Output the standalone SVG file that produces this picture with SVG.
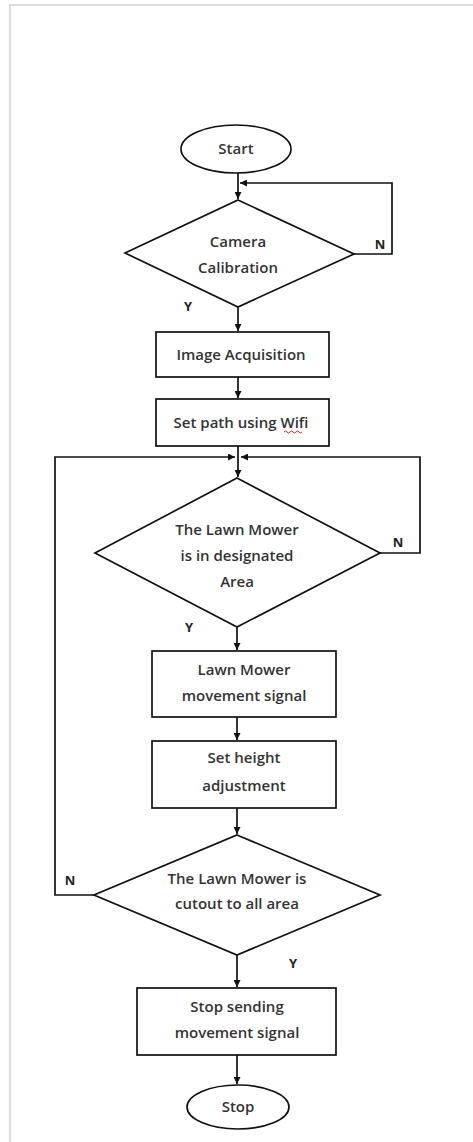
<svg xmlns="http://www.w3.org/2000/svg" width="473" height="1142" viewBox="0 0 473 1142">
<style>
.shape{fill:#fff;stroke:#111;stroke-width:1.7}
.line{fill:none;stroke:#111;stroke-width:1.7}
.t{font-family:"Open Sans","Liberation Sans",sans-serif;font-size:15px;font-weight:600;fill:#333;text-anchor:middle}
.lbl{font-family:"Open Sans","Liberation Sans",sans-serif;font-size:13px;font-weight:bold;fill:#222;text-anchor:middle}
</style>
<defs>
<marker id="arr" viewBox="0 0 10 10" refX="10" refY="5" markerWidth="7" markerHeight="7" markerUnits="userSpaceOnUse" orient="auto">
<path d="M0,0 L10,5 L0,10 z" fill="#111"/>
</marker>
</defs>
<rect width="473" height="1142" fill="#fff"/>
<path d="M10,1142 V5 H473" fill="none" stroke="#d0d0d0" stroke-width="1.5"/>

<g id="connectors">
<line class="line" x1="238" y1="173" x2="238" y2="199" marker-end="url(#arr)"/>
<polyline class="line" points="354,254 392,254 392,183 240,183" marker-end="url(#arr)"/>
<line class="line" x1="238" y1="307" x2="238" y2="331" marker-end="url(#arr)"/>
<line class="line" x1="238" y1="377" x2="238" y2="398" marker-end="url(#arr)"/>
<line class="line" x1="238" y1="446" x2="238" y2="477" marker-end="url(#arr)"/>
<polyline class="line" points="94,895 55,895 55,457 235,457" marker-end="url(#arr)"/>
<polyline class="line" points="380,553 420,553 420,457 241,457" marker-end="url(#arr)"/>
<line class="line" x1="237" y1="627" x2="237" y2="650" marker-end="url(#arr)"/>
<line class="line" x1="237" y1="717" x2="237" y2="740" marker-end="url(#arr)"/>
<line class="line" x1="237" y1="808" x2="237" y2="834" marker-end="url(#arr)"/>
<line class="line" x1="237" y1="955" x2="237" y2="987" marker-end="url(#arr)"/>
<line class="line" x1="237" y1="1055" x2="237" y2="1084" marker-end="url(#arr)"/>
<text class="lbl" x="380" y="249">N</text>
<text class="lbl" x="188" y="311">Y</text>
<text class="lbl" x="398" y="547">N</text>
<text class="lbl" x="189" y="632">Y</text>
<text class="lbl" x="70" y="885">N</text>
<text class="lbl" x="293" y="968">Y</text>
</g>

<g id="start">
<ellipse class="shape" cx="236" cy="149" rx="55" ry="24"/>
<text class="t" x="236" y="154">Start</text>
</g>

<g id="camera-calibration">
<polygon class="shape" points="238,200 354,254 238,307 125,253"/>
<text class="t" x="238" y="247">Camera</text>
<text class="t" x="238" y="273">Calibration</text>
</g>

<g id="image-acquisition">
<rect class="shape" x="156" y="332" width="173" height="45"/>
<text class="t" x="241" y="360">Image Acquisition</text>
</g>

<g id="set-path">
<rect class="shape" x="156" y="399" width="173" height="47"/>
<text class="t" x="241" y="428">Set path using Wifi</text>
<path d="M284,432 q1.5,-2 3,0 t3,0 t3,0 t3,0 t3,0 t3,0" fill="none" stroke="#d22" stroke-width="1"/>
</g>

<g id="designated-area">
<polygon class="shape" points="237,478 380,553 237,627 95,553"/>
<text class="t" x="237" y="535">The Lawn Mower</text>
<text class="t" x="237" y="561">is in designated</text>
<text class="t" x="237" y="587">Area</text>
</g>

<g id="movement-signal">
<rect class="shape" x="152" y="651" width="184" height="66"/>
<text class="t" x="244" y="675">Lawn Mower</text>
<text class="t" x="244" y="701">movement signal</text>
</g>

<g id="height-adjustment">
<rect class="shape" x="152" y="741" width="184" height="67"/>
<text class="t" x="244" y="763">Set height</text>
<text class="t" x="244" y="791">adjustment</text>
</g>

<g id="cutout-all-area">
<polygon class="shape" points="237,835 380,895 237,955 94,895"/>
<text class="t" x="237" y="884">The Lawn Mower is</text>
<text class="t" x="237" y="909">cutout to all area</text>
</g>

<g id="stop-sending">
<rect class="shape" x="137" y="988" width="199" height="67"/>
<text class="t" x="237" y="1012">Stop sending</text>
<text class="t" x="237" y="1038">movement signal</text>
</g>

<g id="stop">
<ellipse class="shape" cx="238" cy="1107" rx="51" ry="22"/>
<text class="t" x="238" y="1112">Stop</text>
</g>
</svg>
